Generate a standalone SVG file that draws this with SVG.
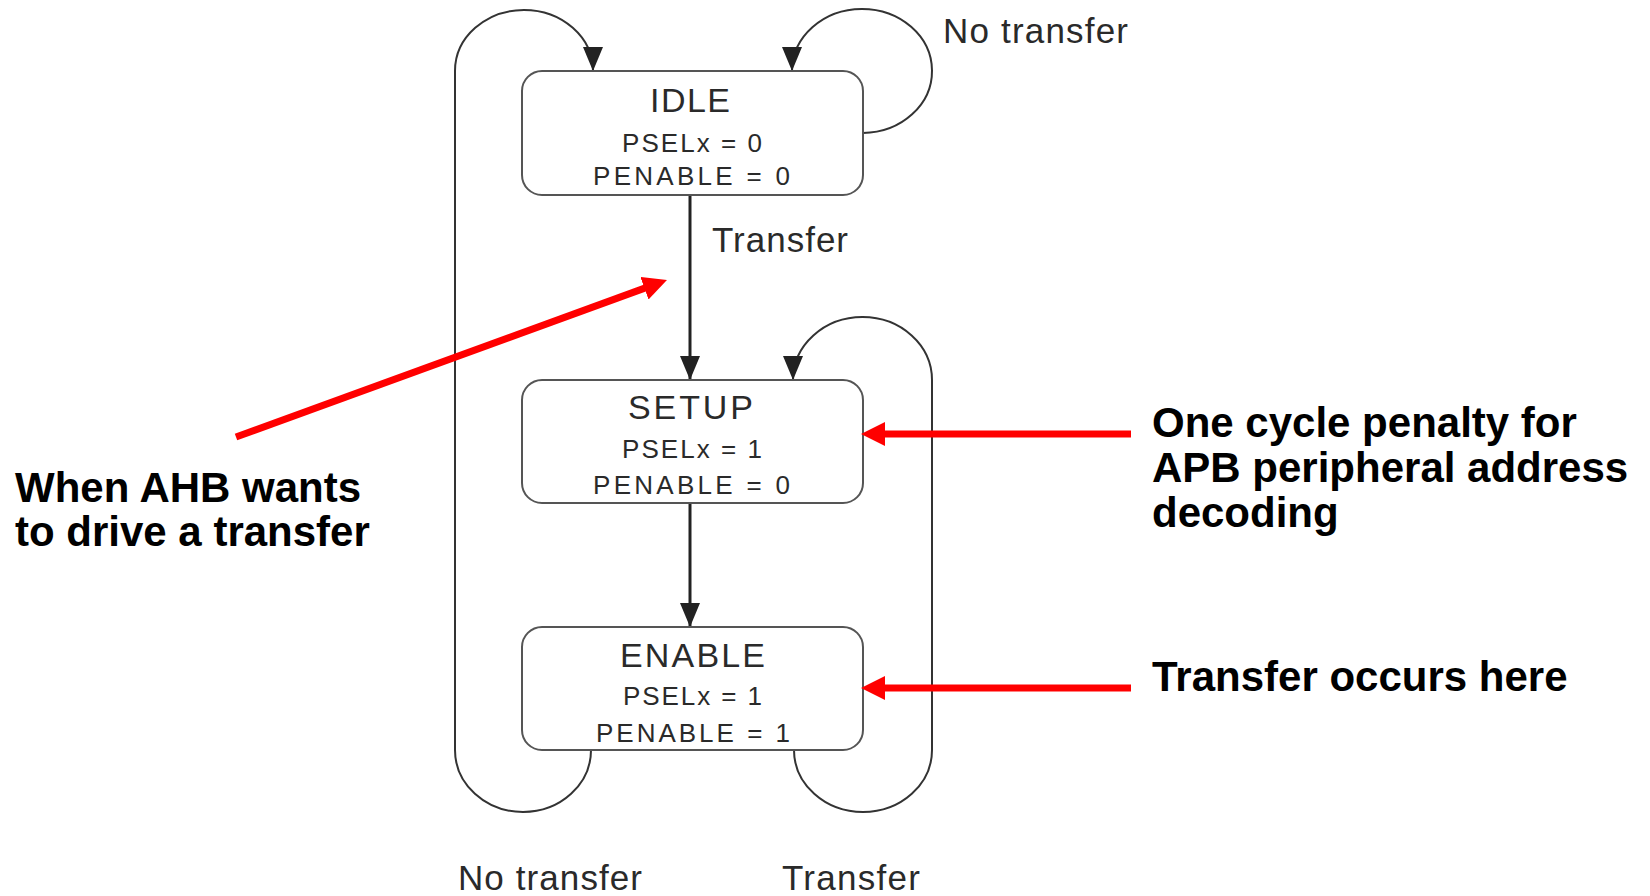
<svg xmlns="http://www.w3.org/2000/svg" width="1650" height="896" viewBox="0 0 1650 896">
<style>
.box{fill:#fff;stroke:#555;stroke-width:2}
.st{font-family:"Liberation Sans",Arial,sans-serif;fill:#2a2a2a}
.t1{font-size:34px}
.t2{font-size:26px}
.lbl{font-family:"Liberation Sans",Arial,sans-serif;fill:#2a2a2a;font-size:35px}
.note{font-family:"Liberation Sans",Arial,sans-serif;font-weight:bold;font-size:42px;fill:#000}
.loop{fill:none;stroke:#333;stroke-width:2;marker-end:url(#bh)}
.vert{fill:none;stroke:#222;stroke-width:3;marker-end:url(#bh)}
.red{fill:none;stroke:#f00;stroke-width:7;marker-end:url(#rh)}
</style>
<defs>
<marker id="bh" markerUnits="userSpaceOnUse" markerWidth="24" markerHeight="20" refX="24" refY="10" orient="auto">
<path d="M0,0 L24,10 L0,20 z" fill="#222"/>
</marker>
<marker id="rh" markerUnits="userSpaceOnUse" markerWidth="24" markerHeight="24" refX="12" refY="12" orient="auto">
<path d="M0,0 L24,12 L0,24 z" fill="#f00"/>
</marker>
</defs>
<rect width="1650" height="896" fill="#fff"/>
<g id="connectors">
<path class="loop" d="M591,750 A68,62 0 0 1 455,750 L455,71 A69,61 0 0 1 593,71"/>
<path class="loop" d="M863,133 A70,62 0 1 0 792,71"/>
<path class="loop" d="M794,750 A69,62 0 0 0 932,750 L932,380 A69.5,63 0 0 0 793,380"/>
<path class="vert" d="M690,196 L690,380"/>
<path class="vert" d="M690,503 L690,627"/>
<text class="lbl" x="943" y="43" textLength="185" lengthAdjust="spacing">No transfer</text>
<text class="lbl" x="712" y="252" textLength="136" lengthAdjust="spacing">Transfer</text>
<text class="lbl" x="458" y="890" textLength="184" lengthAdjust="spacing">No transfer</text>
<text class="lbl" x="782" y="890" textLength="138" lengthAdjust="spacing">Transfer</text>
</g>
<g id="idle">
<rect class="box" x="522" y="71" width="341" height="124" rx="20"/>
<text class="st t1" x="650" y="112" textLength="80" lengthAdjust="spacing">IDLE</text>
<text class="st t2" x="622" y="152" textLength="140" lengthAdjust="spacing">PSELx = 0</text>
<text class="st t2" x="593" y="185" textLength="197" lengthAdjust="spacing">PENABLE  = 0</text>
</g>
<g id="setup">
<rect class="box" x="522" y="380" width="341" height="123" rx="20"/>
<text class="st t1" x="628" y="419" textLength="125" lengthAdjust="spacing">SETUP</text>
<text class="st t2" x="622" y="458" textLength="140" lengthAdjust="spacing">PSELx = 1</text>
<text class="st t2" x="593" y="494" textLength="197" lengthAdjust="spacing">PENABLE  = 0</text>
</g>
<g id="enable">
<rect class="box" x="522" y="627" width="341" height="123" rx="20"/>
<text class="st t1" x="620" y="667" textLength="145" lengthAdjust="spacing">ENABLE</text>
<text class="st t2" x="623" y="705" textLength="139" lengthAdjust="spacing">PSELx = 1</text>
<text class="st t2" x="596" y="742" textLength="194" lengthAdjust="spacing">PENABLE  = 1</text>
</g>
<g id="annotations">
<path class="red" d="M236,437 L655.7,284.1"/>
<path class="red" d="M1131,434 L873,434"/>
<path class="red" d="M1131,688 L873,688"/>
<text class="note" x="15" y="502">When AHB wants</text>
<text class="note" x="15" y="546">to drive a transfer</text>
<text class="note" x="1152" y="437">One cycle penalty for</text>
<text class="note" x="1152" y="482">APB peripheral address</text>
<text class="note" x="1152" y="527">decoding</text>
<text class="note" x="1152" y="691">Transfer occurs here</text>
</g>
</svg>
